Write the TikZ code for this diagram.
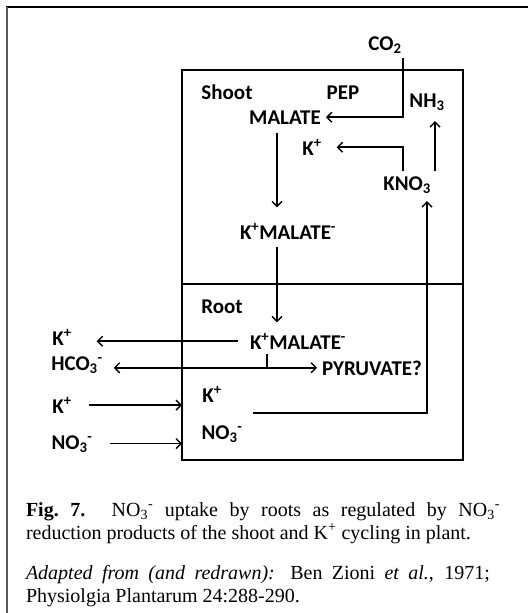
\documentclass[tikz,border=0pt]{standalone}
\usepackage{fontspec}
\setmainfont{Liberation Serif}
\newfontfamily\diagfont{Carlito}
\usetikzlibrary{arrows.meta}
\begin{document}
\begin{tikzpicture}[x=1pt,y=-1pt,
  lab/.style={font=\diagfont\bfseries\fontsize{21}{23}\selectfont, anchor=base, inner sep=5pt, outer sep=0pt},
  conn/.style={line width=1.5pt, line cap=butt},
  arr/.style={conn, -{Straight Barb[length=5pt,width=10pt,line width=1.4pt]}},
  arrtwo/.style={conn, {Straight Barb[length=5pt,width=10pt,line width=1.4pt]}-{Straight Barb[length=5pt,width=10pt,line width=1.4pt]}},
  captext/.style={anchor=base west, inner sep=0pt, outer sep=0pt}]
\useasboundingbox (0,0) rectangle (528,613);
% outer frame
\draw[line width=1.7pt, black] (6,7) -- (528,7);
\draw[line width=2.3pt, black!65] (7,7) -- (7,613);
% plant box
\coordinate (boxNW) at (182,70);
\coordinate (boxSE) at (463,460);
\coordinate (divW) at (182,284);
\coordinate (divE) at (463,284);
\draw[line width=1.5pt] (boxNW) rectangle (boxSE);
\draw[line width=1.5pt] (divW) -- (divE);
% helper columns
\coordinate (vA) at (277,0);
\coordinate (vB) at (403,0);
\coordinate (vC) at (435,0);
\coordinate (vD) at (427,0);
\coordinate (vE) at (267,0);
% labels
\node[lab] (CO2) at (385,50) {CO\textsubscript{2}};
\node[lab] (shoot) at (227,99) {Shoot};
\node[lab] (PEP) at (343,99) {PEP};
\node[lab] (NH3) at (427,107) {NH\textsubscript{3}};
\node[lab] (MAL) at (285,124) {MALATE};
\node[lab] (Ksh) at (312,155) {K\textsuperscript{+}};
\node[lab] (KNO3) at (407,190) {KNO\textsubscript{3}};
\node[lab] (KMs) at (288,239) {K\textsuperscript{+}MALATE\textsuperscript{-}};
\node[lab] (root) at (222,313) {Root};
\node[lab] (KMr) at (298,349) {K\textsuperscript{+}MALATE\textsuperscript{-}};
\node[lab] (PYR) at (372,375) {PYRUVATE?};
\node[lab] (Kin) at (212,402) {K\textsuperscript{+}};
\node[lab] (NO3in) at (222,439) {NO\textsubscript{3}\textsuperscript{-}};
\node[lab] (Kout1) at (62,345) {K\textsuperscript{+}};
\node[lab] (HCO3) at (77,370) {HCO\textsubscript{3}\textsuperscript{-}};
\node[lab] (Kout2) at (62,413) {K\textsuperscript{+}};
\node[lab] (NO3out) at (72,449) {NO\textsubscript{3}\textsuperscript{-}};
\coordinate (loopstart) at (253,413);
% connectors
\draw[arr] (CO2.south -| vB) |- (MAL.east);
\draw[arr, shorten <=4pt, shorten >=11pt] (MAL.south -| vA) -- (KMs.north -| vA);
\draw[arr, shorten <=3pt, shorten >=6pt] (KMs.south -| vA) -- (KMr.north -| vA);
\draw[arr, shorten >=10pt] (KNO3.north -| vB) |- (Ksh.east);
\draw[arr, shorten >=6pt] (KNO3.north -| vC) -- (NH3.south -| vC);
\draw[arr, shorten <=7pt, shorten >=20pt] (KMr.west) -- (KMr.west -| Kout1.east);
\draw[arrtwo, shorten <=6pt] (HCO3.east |- PYR.west) -- (PYR.west);
\draw[conn] (KMr.south -| vE) -- (PYR.west -| vE);
\draw[arr, shorten <=12pt] (Kout2.east) -- (Kout2.east -| boxNW);
\draw[arr, shorten <=13pt] (NO3out.east) -- (NO3out.east -| boxNW);
\draw[arr, shorten >=3pt] (loopstart) -| (KNO3.south -| vD);
% caption
\node[captext] (cap1) at (26,516) {\parbox[t]{474pt}{\fontsize{20}{23.5}\selectfont\textbf{Fig.~7.} NO\textsubscript{3}\textsuperscript{-} uptake by roots as regulated by NO\textsubscript{3}\textsuperscript{-}\linebreak reduction products of the shoot and K\textsuperscript{+} cycling in plant.}};
\node[captext] (cap2) at (26,579) {\parbox[t]{464pt}{\fontsize{20}{23}\selectfont\textit{Adapted from (and redrawn):} Ben Zioni \textit{et al.}, 1971;\linebreak Physiolgia Plantarum 24:288-290.}};
\end{tikzpicture}
\end{document}
